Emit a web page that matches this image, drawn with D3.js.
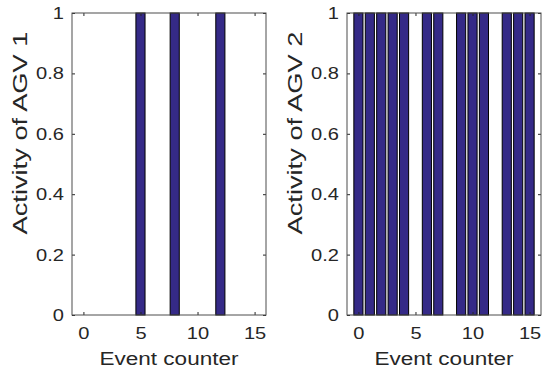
<!DOCTYPE html>
<html>
<head>
<meta charset="utf-8">
<script src="https://cdn.jsdelivr.net/npm/d3@7"></script>
<style>
  html, body { margin: 0; padding: 0; background: #fff; }
  text { font-family: "Liberation Sans", Arial, Helvetica, sans-serif; fill: #262626; }
</style>
</head>
<body>
<svg id="chart" width="550" height="373"></svg>
<script>
// event indices where each AGV is active
const agv1Events = [5, 8, 12]
const agv1Activity = [1, 1, 1]
const agv2Events = [0, 1, 2, 3, 4, 6, 7, 9, 10, 11, 13, 14, 15]
const agv2Activity = [1, 1, 1, 1, 1, 1, 1, 1, 1, 1, 1, 1, 1]

const xTicks = [0, 5, 10, 15]
const yTicks = [0, 0.2, 0.4, 0.6, 0.8, 1]
const yTickLabels = ['0', '0.2', '0.4', '0.6', '0.8', '1']
const xTitle = 'Event counter'
const yTitles = ['Activity of AGV 1', 'Activity of AGV 2']

const barColor = '#352a87',
      axisColor = '#262626'

function _stretch(sel, k) {
  sel.each(function() {
    let w = this.getComputedTextLength()
    d3.select(this).attr('textLength', w * k).attr('lengthAdjust', 'spacingAndGlyphs')
  })
}

function _panel(g, events, values, title) {
  let x = d3.scaleLinear().domain([-1, 16]).range([72, 266]),
      y = d3.scaleLinear().domain([0, 1]).range([315, 13]),
      bw = x(0.8) - x(0)

  g.selectAll('rect.bar')
    .data(events.map((e, i) => ({ e: e, v: values[i] })))
    .join('rect')
      .attr('class', 'bar')
      .attr('x', d => x(d.e - 0.4))
      .attr('y', d => y(d.v))
      .attr('width', bw)
      .attr('height', d => y(0) - y(d.v))
      .attr('fill', barColor)
      .attr('stroke', '#000')
      .attr('stroke-width', 1)

  let bottom = g.append('g')
        .attr('transform', 'translate(0,' + y(0) + ')')
        .call(d3.axisBottom(x).tickValues(xTicks).tickSize(-3).tickPadding(12)),
      top = g.append('g')
        .attr('transform', 'translate(0,' + y(1) + ')')
        .call(d3.axisTop(x).tickValues(xTicks).tickSize(-3).tickFormat('')),
      left = g.append('g')
        .attr('transform', 'translate(' + x(-1) + ',0)')
        .call(d3.axisLeft(y).tickValues(yTicks).tickSize(-3).tickPadding(8)
          .tickFormat((d, i) => yTickLabels[i])),
      right = g.append('g')
        .attr('transform', 'translate(' + x(16) + ',0)')
        .call(d3.axisRight(y).tickValues(yTicks).tickSize(-3).tickFormat(''))

  ;[bottom, top, left, right].forEach(a => {
    a.select('.domain').remove()
    a.selectAll('line').attr('stroke', axisColor)
    a.selectAll('text')
      .attr('font-size', 17)
      .attr('font-family', '"Liberation Sans", Arial, sans-serif')
      .attr('fill', axisColor)
  })
  _stretch(bottom.selectAll('text'), 1.18)
  _stretch(left.selectAll('text'), 1.18)

  // box
  g.append('rect')
    .attr('x', x(-1))
    .attr('y', y(1))
    .attr('width', x(16) - x(-1))
    .attr('height', y(0) - y(1))
    .attr('fill', 'none')
    .attr('stroke', '#4d4d4d')
    .attr('stroke-width', 1)

  g.append('text')
    .attr('x', (x(-1) + x(16)) / 2)
    .attr('y', 365)
    .attr('text-anchor', 'middle')
    .attr('font-size', 18)
    .attr('textLength', 139)
    .attr('lengthAdjust', 'spacingAndGlyphs')
    .text(xTitle)

  g.append('text')
    .attr('transform', 'translate(27,133) rotate(-90)')
    .attr('text-anchor', 'middle')
    .attr('font-size', 21)
    .attr('textLength', 203)
    .attr('lengthAdjust', 'spacingAndGlyphs')
    .text(title)
}

let svg = d3.select('#chart')

_panel(svg.append('g'), agv1Events, agv1Activity, yTitles[0])
_panel(svg.append('g').attr('transform', 'translate(275,0)'), agv2Events, agv2Activity, yTitles[1])
</script>
</body>
</html>
